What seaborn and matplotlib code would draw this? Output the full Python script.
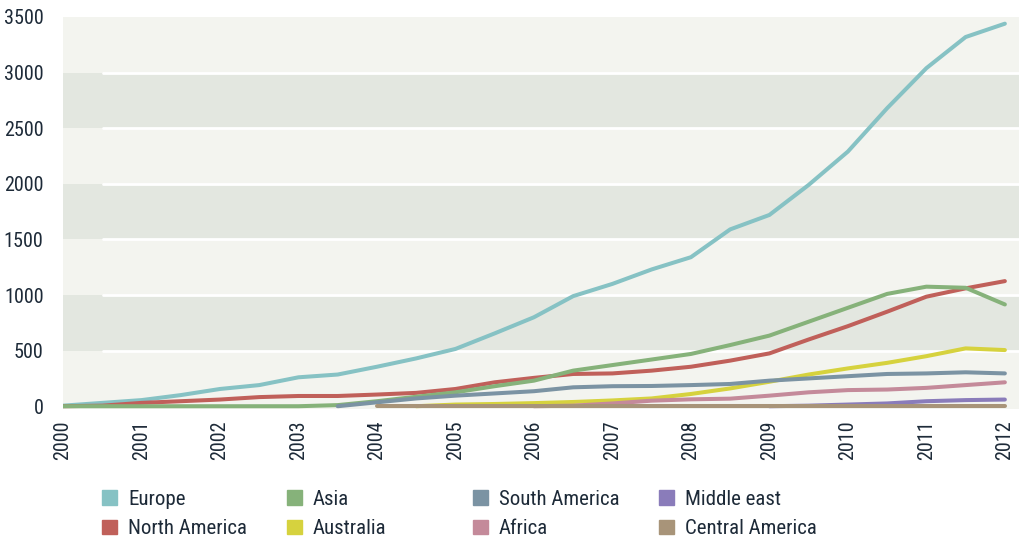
import numpy as np
import pandas as pd
import matplotlib
matplotlib.use("Agg")
import matplotlib.pyplot as plt
from matplotlib import font_manager as fm
from matplotlib.patches import Patch
import seaborn as sns

# half-year steps from 2000 to 2012
years = [2000 + 0.5 * i for i in range(25)]

europe = [5, 30, 55, 100, 155, 190, 260, 285, 355, 430, 515, 655, 800, 990,
          1100, 1230, 1340, 1590, 1720, 1990, 2290, 2680, 3040, 3320, 3440]
north_america = [0, 5, 30, 45, 60, 82, 92, 92, 105, 120, 155, 215, 255, 290,
                 295, 320, 355, 410, 475, 600, 720, 850, 985, 1060, 1125]
asia = [0, 0, 0, 0, 0, 0, 0, 10, 45, 85, 125, 180, 230, 320,
        370, 420, 470, 550, 635, 760, 885, 1010, 1075, 1065, 915]
australia = [np.nan] * 9 + [0, 15, 20, 28, 38, 52, 70, 110, 160, 220, 285,
                            340, 390, 450, 520, 505]
south_america = [np.nan] * 7 + [0, 35, 70, 95, 115, 135, 170, 180, 182, 190,
                                200, 230, 250, 270, 290, 295, 305, 295]
africa = [np.nan] * 12 + [0, 5, 25, 50, 62, 68, 95, 125, 145, 150, 165, 190, 215]
middle_east = [np.nan] * 18 + [0, 5, 15, 25, 45, 55, 60]
central_america = [np.nan] * 8 + [5] * 17

regions = ["Europe", "North America", "Asia", "Australia",
           "South America", "Africa", "Middle east", "Central America"]
series = [europe, north_america, asia, australia,
          south_america, africa, middle_east, central_america]
colors = ["#86c2c4", "#c0605a", "#86b27a", "#d6d23e",
          "#7b93a3", "#c48a9a", "#8a7cba", "#a89479"]

year_ticks = list(range(2000, 2013))
y_ticks = [0, 500, 1000, 1500, 2000, 2500, 3000, 3500]

rows = []
for name, vals in zip(regions, series):
    for yr, v in zip(years, vals):
        rows.append({"year": yr, "value": v, "region": name})
df = pd.DataFrame(rows).dropna()

sns.set_style("white")

# pick a narrow face if one is installed
names = {f.name for f in fm.fontManager.ttflist}
base = "Roboto"
for cand in ["Liberation Sans Narrow", "Roboto Condensed", "Open Sans Condensed"]:
    if cand in names:
        base = cand
        break
plt.rcParams["font.family"] = [base, "DejaVu Sans"]
text_col = "#1d2a38"

fig = plt.figure(figsize=(10.19, 5.39), dpi=100)
ax = fig.add_axes([63 / 1019, 1 - 409 / 539, 1 - 63 / 1019, (409 - 17) / 539])

# alternating background bands
light, dark = "#f3f4ef", "#e3e7e0"
for i in range(len(y_ticks) - 1):
    ax.axhspan(y_ticks[i] if i else -30, y_ticks[i + 1],
               color=light if i % 2 == 0 else dark, lw=0, zorder=0)
for yv in y_ticks[1:-1]:
    ax.axhline(yv, xmin=0.042, color="white", lw=2, zorder=0.5)

sns.lineplot(data=df, x="year", y="value", hue="region", hue_order=regions,
             palette=colors, linewidth=2.9, legend=False, ax=ax, zorder=2)

ax.set_xlim(2000, 2012.18)
ax.set_ylim(-25, 3500)
ax.set_xticks(year_ticks)
ax.set_xticklabels([str(y) for y in year_ticks], rotation=90)
ax.set_yticks(y_ticks)
ax.set_xticks(np.linspace(2000.18, 2011.83, 24), minor=True)
ax.tick_params(axis="both", which="major", length=0, labelsize=14.5,
               labelcolor=text_col)
ax.tick_params(axis="y", pad=14)
ax.tick_params(axis="x", pad=8)
ax.tick_params(axis="x", which="minor", direction="in", length=7, width=1.8,
               color="white")
ax.set_axisbelow(False)
ax.set_xlabel("")
ax.set_ylabel("")
for s in ax.spines.values():
    s.set_visible(False)

# legend in four fixed columns
col_x = [102, 287, 473, 659]
for c in range(4):
    handles = [Patch(color=colors[2 * c + r], label=regions[2 * c + r]) for r in range(2)]
    fig.legend(handles=handles, loc="upper left",
               bbox_to_anchor=(col_x[c] / 1019, 1 - 490 / 539),
               frameon=False, fontsize=15, labelcolor=text_col,
               handlelength=0.7, handleheight=0.7, handletextpad=0.55,
               labelspacing=0.5, borderpad=0, borderaxespad=0)

fig.savefig("out.png", dpi=100)
